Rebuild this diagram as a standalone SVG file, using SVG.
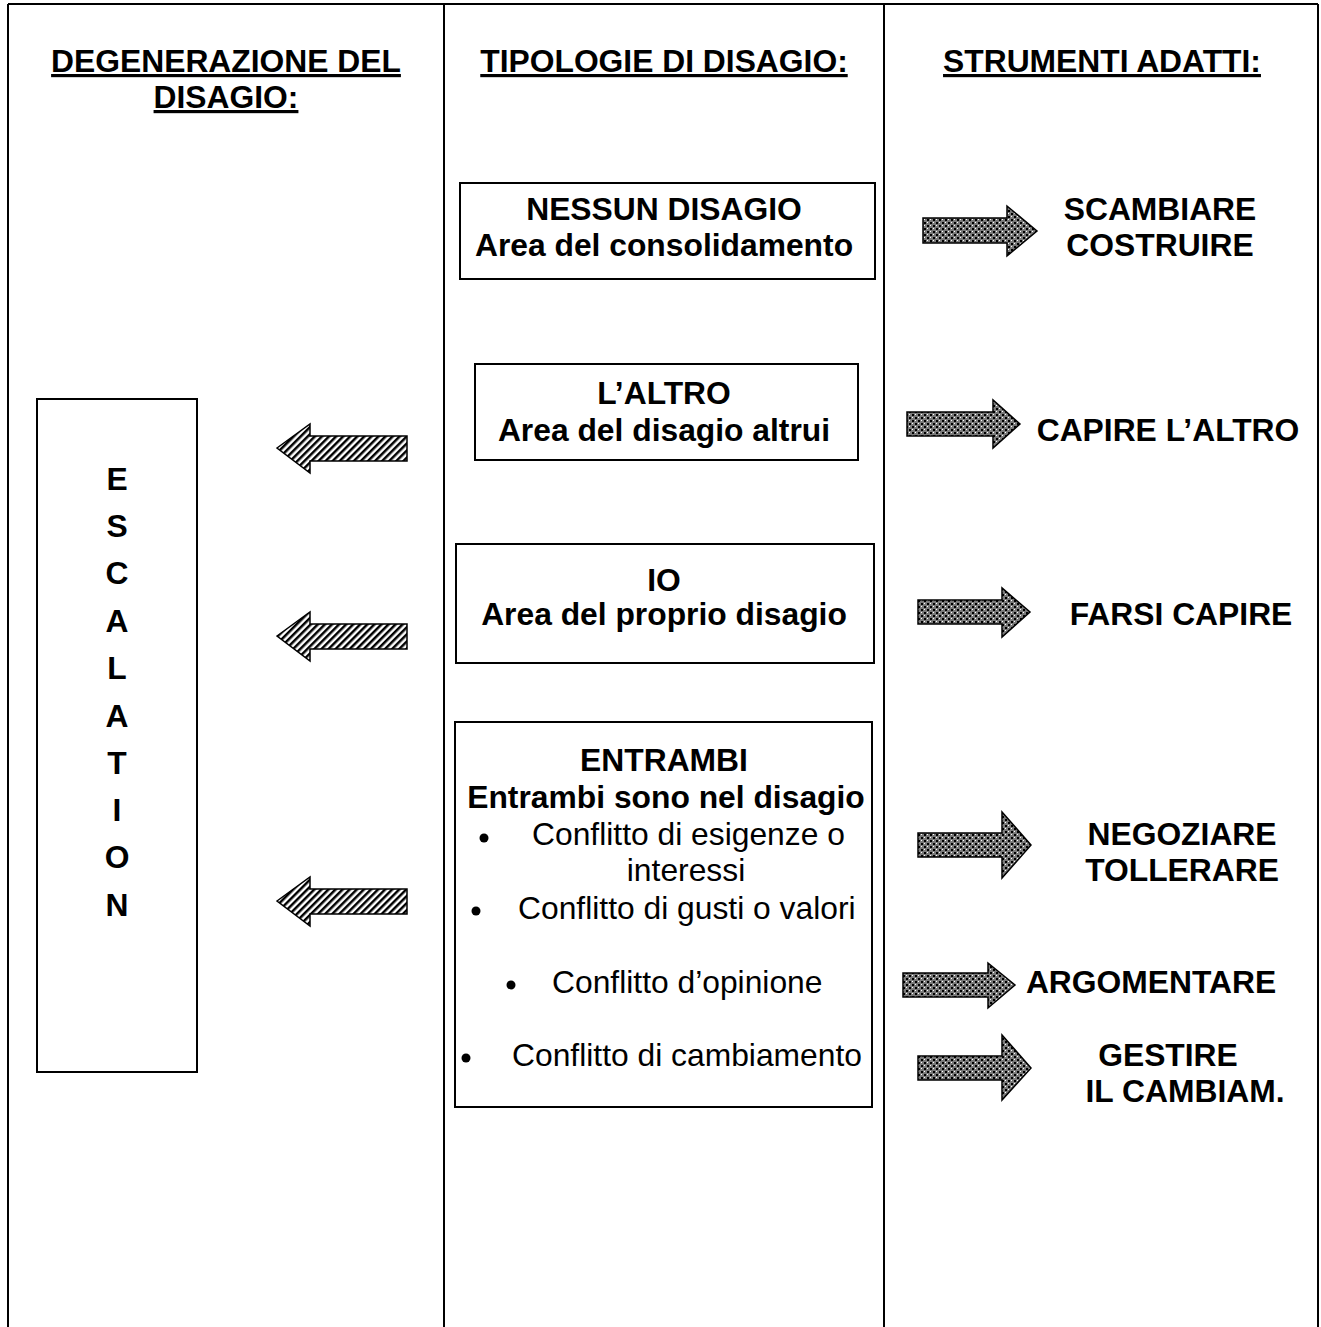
<svg xmlns="http://www.w3.org/2000/svg" width="1321" height="1327" viewBox="0 0 1321 1327">
<style>
text{font-family:"Liberation Sans",Arial,sans-serif;font-size:31.8px;fill:#000}
.b{font-weight:bold}
.c{text-anchor:middle}
.u{text-decoration:underline}
.box{fill:#fff;stroke:#000;stroke-width:2}
.grid{stroke:#000;stroke-width:2;fill:none}
.la{fill:url(#hatch);stroke:#000;stroke-width:1.5}
.ra{fill:url(#check);stroke:#000;stroke-width:1.5}
</style>
<defs>
<pattern id="hatch" width="5" height="5" patternUnits="userSpaceOnUse" patternTransform="rotate(45)">
<rect width="5" height="5" fill="#fff"/>
<rect width="2.5" height="5" fill="#000"/>
</pattern>
<pattern id="check" width="6" height="6" patternUnits="userSpaceOnUse">
<rect width="6" height="6" fill="#7a7a7a"/>
<rect x="0" y="0" width="2" height="2" fill="#000"/>
<rect x="3" y="3" width="2" height="2" fill="#000"/>
<rect x="3" y="0" width="1" height="1" fill="#fff"/>
<rect x="0" y="3" width="1" height="1" fill="#fff"/>
</pattern>
</defs>
<rect width="1321" height="1327" fill="#fff"/>
<g id="table">
<path class="grid" d="M8,4 H1318 M8,4 V1327 M444,4 V1327 M884,4 V1327 M1318,4 V1327"/>
</g>
<g id="headers">
<text class="b c u" x="226" y="72">DEGENERAZIONE DEL</text>
<text class="b c u" x="226" y="108">DISAGIO:</text>
<text class="b c u" x="664" y="72">TIPOLOGIE DI DISAGIO:</text>
<text class="b c u" x="1102" y="72">STRUMENTI ADATTI:</text>
</g>
<g id="escalation">
<rect class="box" x="37" y="399" width="160" height="673"/>
<text class="b c" x="117" y="490">E</text>
<text class="b c" x="117" y="537">S</text>
<text class="b c" x="117" y="584">C</text>
<text class="b c" x="117" y="632">A</text>
<text class="b c" x="117" y="679">L</text>
<text class="b c" x="117" y="727">A</text>
<text class="b c" x="117" y="774">T</text>
<text class="b c" x="117" y="821">I</text>
<text class="b c" x="117" y="868">O</text>
<text class="b c" x="117" y="916">N</text>
</g>
<g id="nessun">
<rect class="box" x="460" y="183" width="415" height="96"/>
<text class="b c" x="664" y="220">NESSUN DISAGIO</text>
<text class="b c" x="664" y="256">Area del consolidamento</text>
</g>
<g id="altro">
<rect class="box" x="475" y="364" width="383" height="96"/>
<text class="b c" x="664" y="404">L’ALTRO</text>
<text class="b c" x="664" y="441">Area del disagio altrui</text>
</g>
<g id="io">
<rect class="box" x="456" y="544" width="418" height="119"/>
<text class="b c" x="664" y="591">IO</text>
<text class="b c" x="664" y="625">Area del proprio disagio</text>
</g>
<g id="entrambi">
<rect class="box" x="455" y="722" width="417" height="385"/>
<text class="b c" x="664" y="771">ENTRAMBI</text>
<text class="b c" x="666" y="808">Entrambi sono nel disagio</text>
<circle cx="484" cy="838" r="4.5"/>
<text x="532" y="845">Conflitto di esigenze o</text>
<text class="c" x="686" y="881">interessi</text>
<circle cx="476" cy="911" r="4.5"/>
<text x="518" y="919">Conflitto di gusti o valori</text>
<circle cx="511" cy="985" r="4.5"/>
<text x="552" y="993">Conflitto d’opinione</text>
<circle cx="466" cy="1058" r="4.5"/>
<text x="512" y="1066">Conflitto di cambiamento</text>
</g>
<g id="tools">
<text class="b c" x="1160" y="220">SCAMBIARE</text>
<text class="b c" x="1160" y="256">COSTRUIRE</text>
<text class="b c" x="1168" y="441">CAPIRE L’ALTRO</text>
<text class="b c" x="1181" y="625">FARSI CAPIRE</text>
<text class="b c" x="1182" y="845">NEGOZIARE</text>
<text class="b c" x="1182" y="881">TOLLERARE</text>
<text class="b c" x="1151" y="993">ARGOMENTARE</text>
<text class="b c" x="1168" y="1066">GESTIRE</text>
<text class="b c" x="1185" y="1102">IL CAMBIAM.</text>
</g>
<g id="connectors">
<path class="la" d="M277,448 L310,424 V436 H407 V461 H310 V473 Z"/>
<path class="la" d="M277,636 L310,612 V624 H407 V649 H310 V661 Z"/>
<path class="la" d="M277,901 L310,877 V889 H407 V914 H310 V926 Z"/>
<path class="ra" d="M923,218 H1007 V206 L1037,231 L1007,256 V243 H923 Z"/>
<path class="ra" d="M907,412 H993 V400 L1020,424 L993,448 V436 H907 Z"/>
<path class="ra" d="M918,600 H1002 V588 L1030,612 L1002,637 V624 H918 Z"/>
<path class="ra" d="M918,833 H1002 V812 L1031,845 L1002,878 V857 H918 Z"/>
<path class="ra" d="M903,973 H988 V963 L1015,985 L988,1008 V997 H903 Z"/>
<path class="ra" d="M918,1056 H1002 V1035 L1031,1068 L1002,1100 V1080 H918 Z"/>
</g>
</svg>
